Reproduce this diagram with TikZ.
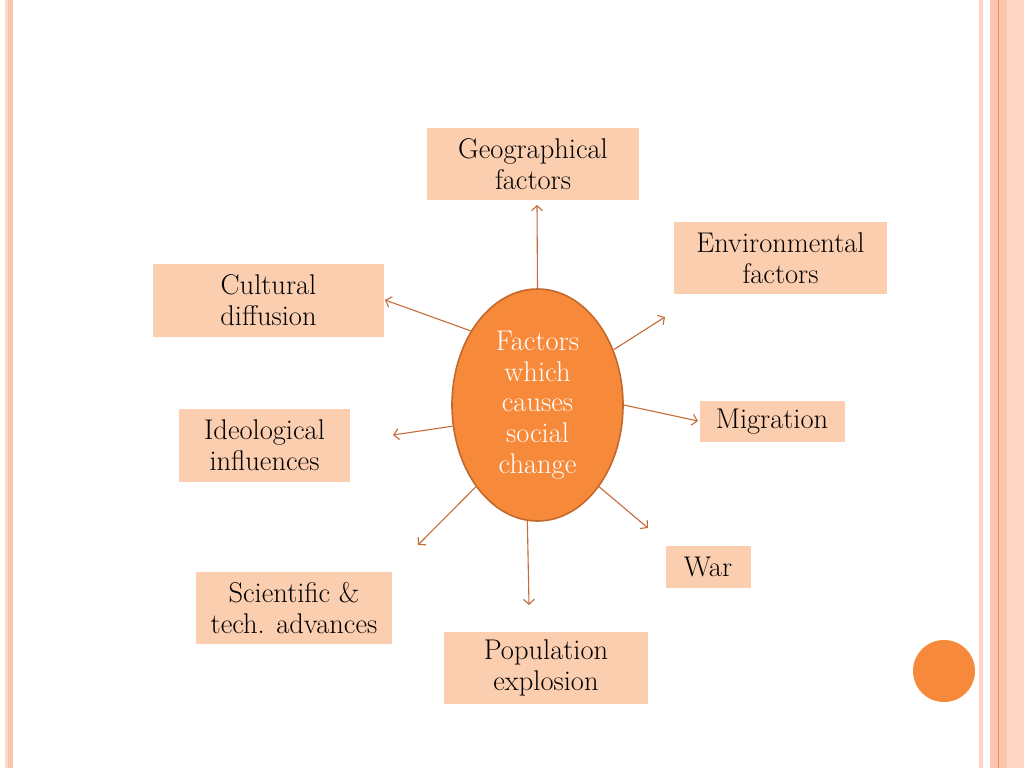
\documentclass[tikz,border=0pt]{standalone}
\usepackage{tikz}
\usetikzlibrary{arrows.meta,positioning,calc,shapes.geometric}

\definecolor{peach}{RGB}{252,206,176}
\definecolor{bigorange}{RGB}{246,137,58}
\definecolor{rimorange}{RGB}{196,104,44}
\definecolor{arroworange}{RGB}{196,108,58}
\definecolor{barlight}{RGB}{253,214,198}
\definecolor{barmid}{RGB}{251,196,172}
\definecolor{barline}{RGB}{238,140,100}

\tikzset{
  factor/.style={rectangle, fill=peach, align=center, inner sep=0pt,
    font=\fontsize{28.5}{31}\selectfont},
  ray/.style={draw=arroworange, line width=1.1pt,
    -{Straight Barb[length=5pt,width=11pt,line width=1.1pt]}}
}

\begin{document}
\begin{tikzpicture}[x=1pt,y=-1pt]
  \useasboundingbox (0,0) rectangle (1024,768);
  \fill[white] (0,0) rectangle (1024,768);

  % side bars
  \fill[barlight] (5,0) rectangle (8,768);
  \fill[barmid] (8,0) rectangle (12.5,768);
  \fill[barlight] (979,0) rectangle (983,768);
  \fill[barmid] (990,0) rectangle (1007,768);
  \fill[barline] (997.5,0) rectangle (999,768);
  \fill[barlight] (1007,0) rectangle (1024,768);
  \fill[bigorange] (944,671) circle (31);

  \node (fac) [ellipse, fill=bigorange, draw=rimorange, line width=1.6pt,
    minimum width=171pt, minimum height=232pt, inner sep=0pt, text=white,
    align=center, font=\fontsize{28.5}{30.7}\selectfont] at (537.5,405)
    {Factors\\which\\causes\\social\\change};

  \node (geo) [factor, minimum width=212pt, minimum height=72pt] at (533,164) {Geographical\\factors};
  \node (env) [factor, minimum width=213pt, minimum height=72pt] at (780.5,258) {Environmental\\factors};
  \node (cul) [factor, minimum width=231pt, minimum height=73pt] at (268.5,300.5) {Cultural\\diffusion};
  \node (ideo) [factor, minimum width=171pt, minimum height=73pt] at (264.5,445.5) {Ideological\\influences};
  \node (mig) [factor, minimum width=145pt, minimum height=41pt] at (772,421.5) {Migration};
  \node (war) [factor, minimum width=85pt, minimum height=42pt] at (708,567) {War};
  \node (sci) [factor, minimum width=196pt, minimum height=72pt] at (294,608) {Scientific \&\\tech. advances};
  \node (pop) [factor, minimum width=204pt, minimum height=72pt] at (546,668) {Population\\explosion};

  % arrow ends
  \coordinate (geo-in) at (537,205);
  \coordinate (env-in) at (665,317);
  \coordinate (cul-in) at (385,300);
  \coordinate (ideo-in) at (393,435);
  \coordinate (mig-in) at (698,421);
  \coordinate (war-in) at (648,528);
  \coordinate (sci-in) at (418,545);
  \coordinate (pop-in) at (529,605);

  \draw[ray] (fac.90) -- (geo-in);
  \draw[ray] (fac.36) -- (env-in);
  \draw[ray] (fac.132) -- (cul-in);
  \draw[ray] (fac.194) -- (ideo-in);
  \draw[ray] (fac.0) -- (mig-in);
  \draw[ray] (fac.307) -- (war-in);
  \draw[ray] (fac.233) -- (sci-in);
  \draw[ray] (fac.265.5) -- (pop-in);
\end{tikzpicture}
\end{document}
